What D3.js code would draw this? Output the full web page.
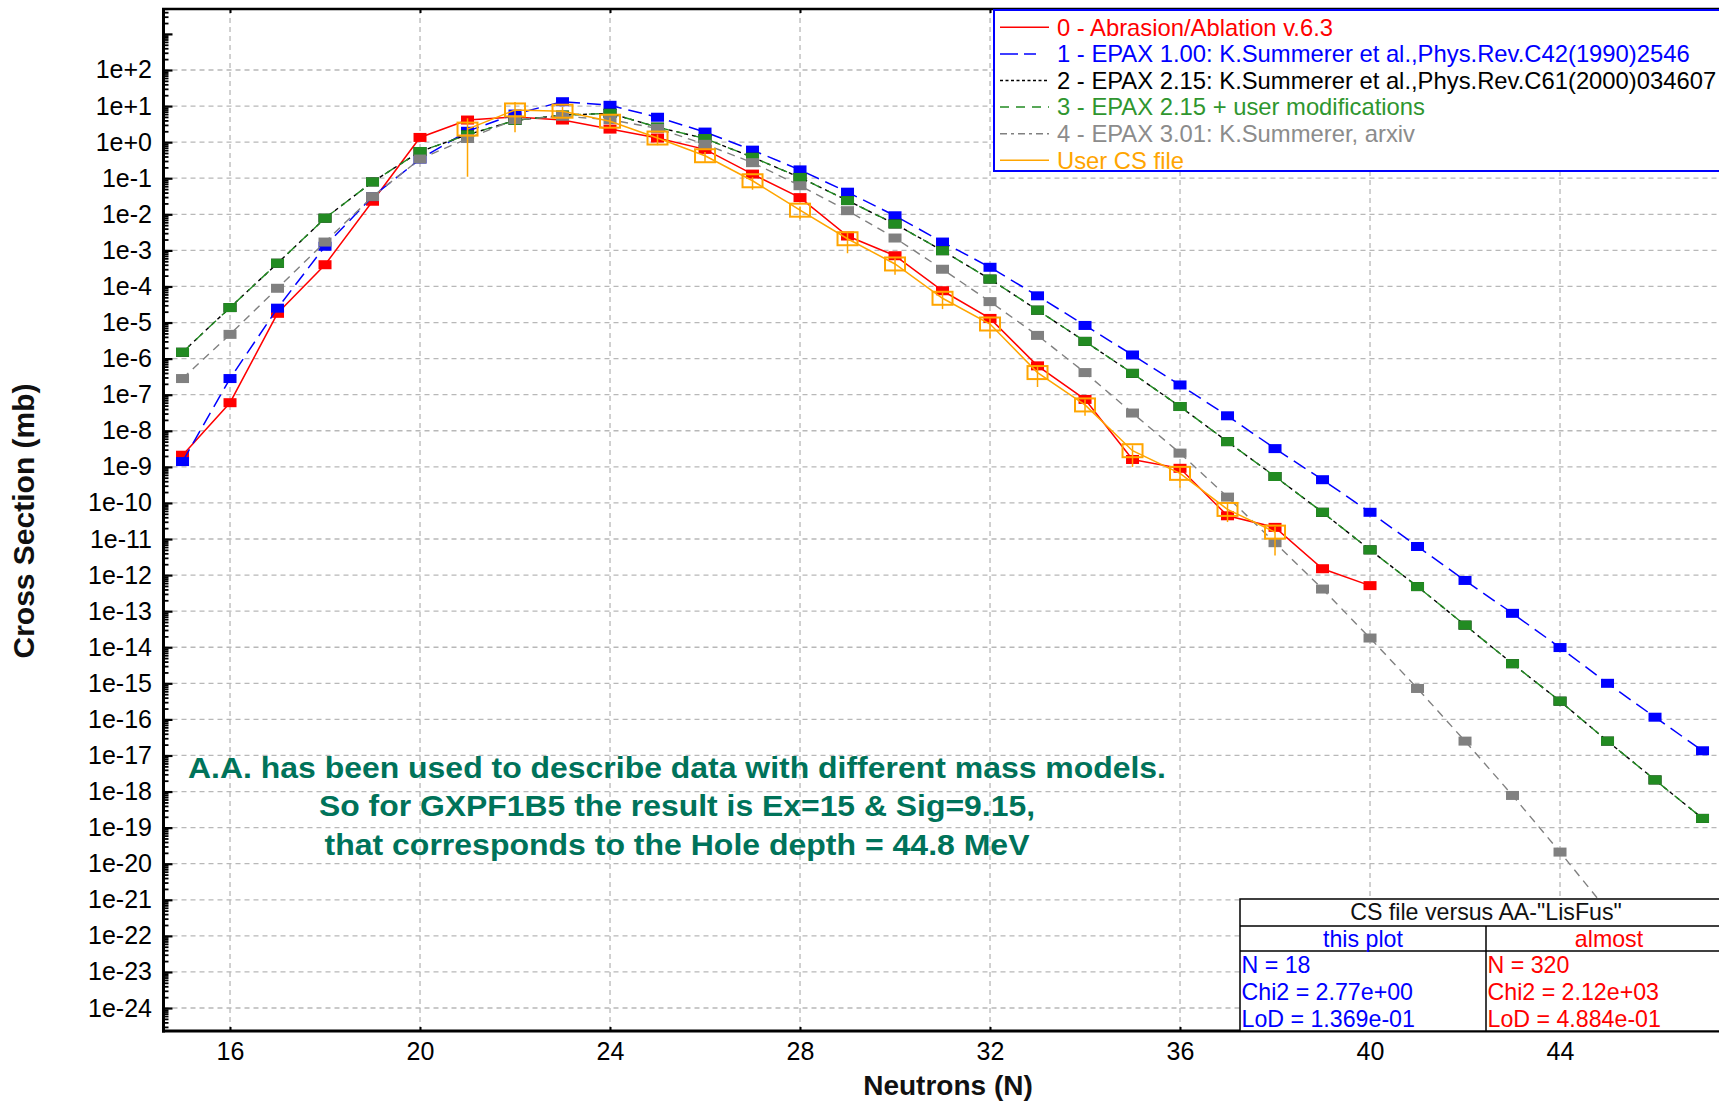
<!DOCTYPE html>
<html><head><meta charset="utf-8">
<script src="https://cdn.jsdelivr.net/npm/d3@7"></script>
<style>
body{margin:0;background:#fff;overflow:hidden}
svg{display:block;font-family:"Liberation Sans",Arial,sans-serif}
</style></head><body>
<svg id="chart" width="1719" height="1103"></svg>
<script>
// ---------------- DATA ----------------
const neutronsAA = [15,16,17,18,19,20,21,22,23,24,25,26,27,28,29,30,31,32,33,34,35,36,37,38,39,40];
const csAbrasionAblation = [2.1e-9,6.0e-8,1.8e-5,4.0e-4,2.3e-2,1.35,4.1,5.0,4.1,2.3,1.3,0.63,0.13,2.9e-2,2.5e-3,7.1e-4,7.6e-5,1.3e-5,6.3e-7,7.4e-8,1.6e-9,9.1e-10,4.4e-11,2.1e-11,1.5e-12,5.1e-13];

const neutronsEPAX = [15,16,17,18,19,20,21,22,23,24,25,26,27,28,29,30,31,32,33,34,35,36,37,38,39,40,41,42,43,44,45,46,47];
const csEPAX100 = [1.4e-9,2.8e-7,2.5e-5,1.3e-3,3.1e-2,0.34,2.0,6.0,13.2,10.5,4.9,1.9,0.60,0.17,4.1e-2,9.1e-3,1.7e-3,3.4e-4,5.5e-5,8.3e-6,1.26e-6,1.86e-7,2.6e-8,3.2e-9,4.4e-10,5.5e-11,6.2e-12,7.1e-13,8.7e-14,9.8e-15,1.0e-15,1.15e-16,1.35e-17];
const csEPAX215 = [1.5e-6,2.6e-5,4.4e-4,7.8e-3,7.9e-2,0.55,1.6,4.0,5.6,6.3,2.6,1.26,0.38,0.105,2.4e-2,5.4e-3,9.8e-4,1.6e-4,2.2e-5,3.0e-6,3.9e-7,4.7e-8,5.0e-9,5.4e-10,5.5e-11,5.0e-12,4.8e-13,4.1e-14,3.5e-15,3.2e-16,2.5e-17,2.1e-18,1.8e-19];
const csEPAX215User = [1.5e-6,2.6e-5,4.4e-4,7.8e-3,7.9e-2,0.55,1.6,4.0,5.6,6.3,2.6,1.26,0.38,0.105,2.4e-2,5.4e-3,9.8e-4,1.6e-4,2.2e-5,3.0e-6,3.9e-7,4.7e-8,5.0e-9,5.4e-10,5.5e-11,5.0e-12,4.8e-13,4.1e-14,3.5e-15,3.2e-16,2.5e-17,2.1e-18,1.8e-19];
const csEPAX301 = [2.8e-7,4.7e-6,8.9e-5,1.7e-3,3.1e-2,0.34,1.26,4.2,5.2,4.2,2.4,0.87,0.27,6.2e-2,1.26e-2,2.2e-3,3.0e-4,3.8e-5,4.4e-6,4.1e-7,3.1e-8,2.4e-9,1.45e-10,7.9e-12,4.1e-13,1.8e-14,7.2e-16,2.5e-17,7.8e-19,2.1e-20,5e-22,1e-23,2e-25];

const neutronsUser = [21,22,23,24,25,26,27,28,29,30,31,32,33,34,35,36,37,38];
const csUserFile = [2.3,7.8,7.2,3.8,1.3,0.42,8.5e-2,1.3e-2,2.1e-3,4.2e-4,4.7e-5,9.1e-6,4.1e-7,5.2e-8,2.8e-9,6.6e-10,6.6e-11,1.55e-11];
// error bar extent in decades (up / down)
const userErrUp   = [0.30,0.22,0.12,0.10,0.10,0.10,0.10,0.10,0.15,0.15,0.15,0.15,0.15,0.15,0.15,0.15,0.15,0.15];
const userErrDown = [1.32,0.62,0.15,0.15,0.20,0.20,0.25,0.25,0.40,0.30,0.30,0.40,0.40,0.30,0.45,0.40,0.35,0.65];

const xTicks = [16,20,24,28,32,36,40,44];
const yTickExponents = [2,1,0,-1,-2,-3,-4,-5,-6,-7,-8,-9,-10,-11,-12,-13,-14,-15,-16,-17,-18,-19,-20,-21,-22,-23,-24];
const yTickLabels = ["1e+2","1e+1","1e+0","1e-1","1e-2","1e-3","1e-4","1e-5","1e-6","1e-7","1e-8","1e-9","1e-10","1e-11","1e-12","1e-13","1e-14","1e-15","1e-16","1e-17","1e-18","1e-19","1e-20","1e-21","1e-22","1e-23","1e-24"];

const legendLabels = ["0 - Abrasion/Ablation v.6.3","1 - EPAX 1.00: K.Summerer et al.,Phys.Rev.C42(1990)2546","2 - EPAX 2.15: K.Summerer et al.,Phys.Rev.C61(2000)034607","3 - EPAX 2.15 + user modifications","4 - EPAX 3.01: K.Summerer, arxiv","User CS file"];
const annotationLines = ["A.A. has been used to describe data with different mass models.","So for GXPF1B5 the result is Ex=15 & Sig=9.15,","that corresponds to the Hole depth = 44.8 MeV"];
const tableTitle = 'CS file versus AA-"LisFus"';
const tableHeaders = ["this plot","almost"];
const tableCol1 = ["N = 18","Chi2 = 2.77e+00","LoD = 1.369e-01"];
const tableCol2 = ["N = 320","Chi2 = 2.12e+03","LoD = 4.884e-01"];

// ---------------- LAYOUT ----------------
const svg = d3.select("#chart");
const L = 163.5, T = 9, B = 1031, R = 1719;
const x = d3.scaleLinear().domain([14.568, 47.347]).range([162, 1719]);
const y = d3.scaleLog().domain([Math.pow(10,-24.637), Math.pow(10,3.718)]).range([1031, 8]);

svg.append("defs").append("clipPath").attr("id","plotclip")
  .append("rect").attr("x",L+1).attr("y",T+1).attr("width",R-L).attr("height",B-T-2);

// grid
const grid = svg.append("g").attr("stroke","#b8b8b8").attr("stroke-width",1.3).attr("stroke-dasharray","5,4");
grid.selectAll("line.h").data(yTickExponents).join("line")
  .attr("x1",L).attr("x2",R).attr("y1",d=>y(Math.pow(10,d))).attr("y2",d=>y(Math.pow(10,d)));
grid.selectAll("line.v").data(xTicks).join("line")
  .attr("y1",T).attr("y2",B).attr("x1",d=>x(d)).attr("x2",d=>x(d));

// series
const plot = svg.append("g").attr("clip-path","url(#plotclip)");
const line = d3.line().x(d=>x(d[0])).y(d=>y(d[1]));
const series = [
  {n:neutronsAA, v:csAbrasionAblation, color:"#ff0000", dash:null, w:1.5},
  {n:neutronsEPAX, v:csEPAX100, color:"#0000ff", dash:"14,7", w:1.5},
  {n:neutronsEPAX, v:csEPAX215, color:"#000000", dash:"4,4", w:1.4},
  {n:neutronsEPAX, v:csEPAX215User, color:"#228b22", dash:"10,8", w:1.4},
  {n:neutronsEPAX, v:csEPAX301, color:"#808080", dash:"8,6", w:1.4}
];
series.forEach(s=>{
  const pts = s.n.map((n,i)=>[n,s.v[i]]);
  plot.append("path").datum(pts).attr("d",line).attr("fill","none")
    .attr("stroke",s.color).attr("stroke-width",s.w).attr("stroke-dasharray",s.dash);
  plot.append("g").selectAll("rect").data(pts).join("rect")
    .attr("x",d=>x(d[0])-6.5).attr("y",d=>y(d[1])-4.5).attr("width",13).attr("height",9)
    .attr("fill",s.color);
});
// user file
const upts = neutronsUser.map((n,i)=>[n,csUserFile[i],userErrUp[i],userErrDown[i]]);
plot.append("path").datum(upts).attr("d",line).attr("fill","none").attr("stroke","#ffa500").attr("stroke-width",1.5);
plot.append("g").selectAll("line").data(upts).join("line")
  .attr("x1",d=>x(d[0])).attr("x2",d=>x(d[0]))
  .attr("y1",d=>y(d[1]*Math.pow(10,d[2]))).attr("y2",d=>y(d[1]/Math.pow(10,d[3])))
  .attr("stroke","#ffa500").attr("stroke-width",1.5);
plot.append("g").selectAll("rect").data(upts).join("rect")
  .attr("x",d=>x(d[0])-10).attr("y",d=>y(d[1])-6.5).attr("width",20).attr("height",13)
  .attr("fill","none").attr("stroke","#ffa500").attr("stroke-width",2);

// y ticks (inward)
const minorVals = [];
d3.range(-25,4).forEach(e=>{ for(let m=2;m<=9;m++){ const v=m*Math.pow(10,e); if(v>y.domain()[0]&&v<y.domain()[1]) minorVals.push(v);} });
const majorVals = d3.range(-24,4).map(e=>Math.pow(10,e));
svg.append("g").attr("transform",`translate(${L},0)`)
  .call(d3.axisRight(y).tickValues(minorVals).tickSize(5).tickFormat(""))
  .call(g=>g.select(".domain").remove()).selectAll("line").attr("stroke-width",1.8);
svg.append("g").attr("transform",`translate(${L},0)`)
  .call(d3.axisRight(y).tickValues(majorVals).tickSize(9).tickFormat(""))
  .call(g=>g.select(".domain").remove()).selectAll("line").attr("stroke-width",2.2);
// y labels
svg.append("g").attr("transform",`translate(${L-1.5},0)`)
  .call(d3.axisLeft(y).tickValues(yTickExponents.map(e=>Math.pow(10,e))).tickSize(0).tickPadding(10)
    .tickFormat((d,i)=>yTickLabels[i]))
  .call(g=>g.select(".domain").remove())
  .selectAll("text").attr("font-size",25).attr("fill","#000").attr("font-family","'Liberation Sans',Arial,sans-serif");

// x ticks and labels
svg.append("g").attr("transform",`translate(0,${B})`)
  .call(d3.axisBottom(x).tickValues(xTicks).tickSize(-4).tickPadding(11))
  .call(g=>g.select(".domain").remove())
  .call(g=>g.selectAll("line").attr("stroke-width",2))
  .selectAll("text").attr("font-size",25).attr("fill","#000").attr("font-family","'Liberation Sans',Arial,sans-serif");
svg.append("g").attr("transform",`translate(0,${T})`)
  .call(d3.axisTop(x).tickValues(xTicks).tickSize(-4).tickFormat(""))
  .call(g=>g.select(".domain").remove())
  .selectAll("line").attr("stroke-width",2);

// frame
svg.append("line").attr("x1",L).attr("x2",L).attr("y1",T-1).attr("y2",B+1.5).attr("stroke","#000").attr("stroke-width",3);
svg.append("line").attr("x1",L-1.5).attr("x2",R).attr("y1",B).attr("y2",B).attr("stroke","#000").attr("stroke-width",3);
svg.append("line").attr("x1",L-1.5).attr("x2",R).attr("y1",T).attr("y2",T).attr("stroke","#000").attr("stroke-width",2.5);

// axis titles
svg.append("text").attr("transform","translate(34,521) rotate(-90)").attr("text-anchor","middle")
  .attr("font-size",30).attr("font-weight","bold").attr("fill","#111").text("Cross Section (mb)");
svg.append("text").attr("x",948).attr("y",1095).attr("text-anchor","middle")
  .attr("font-size",28).attr("font-weight","bold").attr("fill","#111").text("Neutrons (N)");

// annotation
const annLen = [978,716,705];
svg.append("g").selectAll("text").data(annotationLines).join("text")
  .attr("x",677).attr("y",(d,i)=>777.5+i*38.5).attr("text-anchor","middle")
  .attr("font-size",30).attr("font-weight","bold").attr("fill","#00735a")
  .attr("textLength",(d,i)=>annLen[i]).attr("lengthAdjust","spacingAndGlyphs")
  .text(d=>d);

// legend
const lg = svg.append("g");
lg.append("rect").attr("x",994).attr("y",10).attr("width",740).attr("height",161)
  .attr("fill","#fff").attr("stroke","#0000ff").attr("stroke-width",2);
const legStyle = [
  {c:"#ff0000", tc:"#ff0000", dash:null},
  {c:"#0000ff", tc:"#0000ff", dash:"18,6,12,20"},
  {c:"#000000", tc:"#000000", dash:"3,2.5"},
  {c:"#228b22", tc:"#2f962f", dash:"9,7"},
  {c:"#808080", tc:"#8c8c8c", dash:"7,4,3,4"},
  {c:"#ffa500", tc:"#ffa500", dash:null}
];
legendLabels.forEach((lab,i)=>{
  const cy = 27.3 + i*26.6;
  lg.append("line").attr("x1",1000).attr("x2",1049).attr("y1",cy).attr("y2",cy)
    .attr("stroke",legStyle[i].c).attr("stroke-width",1.5).attr("stroke-dasharray",legStyle[i].dash);
  lg.append("text").attr("x",1057).attr("y",cy+8.3).attr("font-size",23.8).attr("fill",legStyle[i].tc).text(lab);
});

// stats table
const tb = svg.append("g");
tb.append("rect").attr("x",1240).attr("y",899).attr("width",492).attr("height",132)
  .attr("fill","#fff").attr("stroke","#000").attr("stroke-width",1.5);
tb.append("line").attr("x1",1240).attr("x2",1732).attr("y1",926).attr("y2",926).attr("stroke","#000").attr("stroke-width",1.5);
tb.append("line").attr("x1",1240).attr("x2",1732).attr("y1",951).attr("y2",951).attr("stroke","#000").attr("stroke-width",1.5);
tb.append("line").attr("x1",1486).attr("x2",1486).attr("y1",926).attr("y2",1031).attr("stroke","#000").attr("stroke-width",1.5);
tb.append("text").attr("x",1486).attr("y",919.5).attr("text-anchor","middle").attr("font-size",23.2).attr("fill","#111").text(tableTitle);
tb.append("text").attr("x",1363).attr("y",946.5).attr("text-anchor","middle").attr("font-size",23.2).attr("fill","#0000ff").text(tableHeaders[0]);
tb.append("text").attr("x",1609).attr("y",946.5).attr("text-anchor","middle").attr("font-size",23.2).attr("fill","#ff0000").text(tableHeaders[1]);
tableCol1.forEach((t,i)=>tb.append("text").attr("x",1241.5).attr("y",973.3+i*26.7).attr("font-size",23.2).attr("fill","#0000ff").text(t));
tableCol2.forEach((t,i)=>tb.append("text").attr("x",1487.5).attr("y",973.3+i*26.7).attr("font-size",23.2).attr("fill","#ff0000").text(t));
</script>
</body></html>
